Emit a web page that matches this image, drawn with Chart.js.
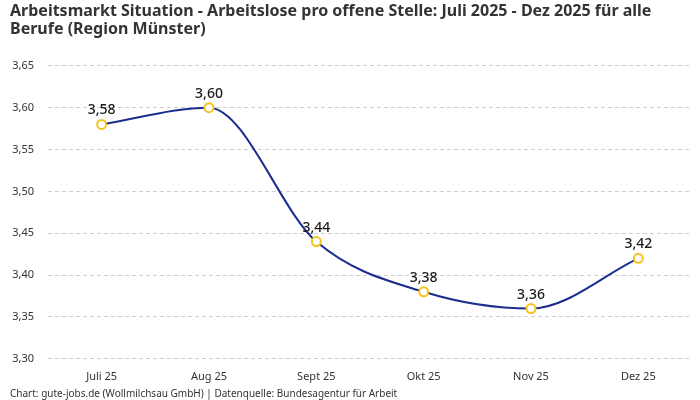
<!DOCTYPE html>
<html>
<head>
<meta charset="utf-8">
<script src="https://cdn.jsdelivr.net/npm/chart.js@4"></script>
<style>
  html, body { margin: 0; padding: 0; background: #fff; }
  #wrap { width: 700px; height: 400px; }
</style>
</head>
<body>
<div id="wrap"><canvas id="chart"></canvas></div>
<script>
const months = ['Juli 25', 'Aug 25', 'Sept 25', 'Okt 25', 'Nov 25', 'Dez 25'];
const ratio = [3.58, 3.60, 3.44, 3.38, 3.36, 3.42];
const titleLines = [
    'Arbeitsmarkt Situation - Arbeitslose pro offene Stelle: Juli 2025 - Dez 2025 für alle',
    'Berufe (Region Münster)',
];
const sourceText = 'Chart: gute-jobs.de (Wollmilchsau GmbH) | Datenquelle: Bundesagentur für Arbeit';

const fmt = (v) => Number(v).toFixed(2).replace('.', ',');

// draw value labels above each point
const valueLabels = {
    id: 'valueLabels',
    afterDatasetsDraw(chart) {
        const ctx = chart.ctx;
        const meta = chart.getDatasetMeta(0);
        ctx.save();
        ctx.font = '500 14px "Noto Sans", sans-serif';
        ctx.fillStyle = '#1a1a1a';
        ctx.textAlign = 'center';
        ctx.textBaseline = 'bottom';
        meta.data.forEach((pt, i) => {
            ctx.fillText(fmt(chart.data.datasets[0].data[i]), pt.x, pt.y - 7);
        });
        ctx.restore();
    },
};

new Chart(document.getElementById('chart'), {
    type: 'line',
    data: {
        labels: months,
        datasets: [
            {
                data: ratio,
                borderColor: '#1b2d8f',
                borderWidth: 2,
                cubicInterpolationMode: 'monotone',
                pointRadius: 4.5,
                pointBackgroundColor: '#fff',
                pointBorderColor: '#f6c21c',
                pointBorderWidth: 2,
                fill: false,
            },
        ],
    },
    options: {
        responsive: true,
        maintainAspectRatio: false,
        animation: false,
        layout: { padding: { left: 10, right: 8, top: 2, bottom: 0 } },
        plugins: {
            legend: { display: false },
            tooltip: { enabled: false },
            title: {
                display: true,
                text: titleLines,
                align: 'start',
                color: '#333',
                font: { family: '"Noto Sans", sans-serif', size: 16, weight: 'bold', lineHeight: 1.15 },
                padding: { top: 0, bottom: 27 },
            },
            subtitle: {
                display: true,
                text: sourceText,
                position: 'bottom',
                align: 'start',
                color: '#333',
                font: { family: '"Noto Sans", sans-serif', size: 10 },
                padding: { top: 2, bottom: 0 },
            },
        },
        scales: {
            x: {
                offset: true,
                grid: { display: false },
                border: { display: false },
                ticks: {
                    color: '#333',
                    font: { family: '"Noto Sans", sans-serif', size: 11 },
                    padding: 3,
                },
            },
            y: {
                min: 3.3,
                max: 3.65,
                border: { display: false, dash: [4, 3] },
                grid: { color: '#cfcfcf', drawTicks: false },
                afterFit: (scale) => { scale.width = 38; },
                ticks: {
                    stepSize: 0.05,
                    color: '#333',
                    padding: 14,
                    font: { family: '"Noto Sans", sans-serif', size: 11 },
                    callback: (v) => fmt(v),
                },
            },
        },
    },
    plugins: [valueLabels],
});
</script>
</body>
</html>
